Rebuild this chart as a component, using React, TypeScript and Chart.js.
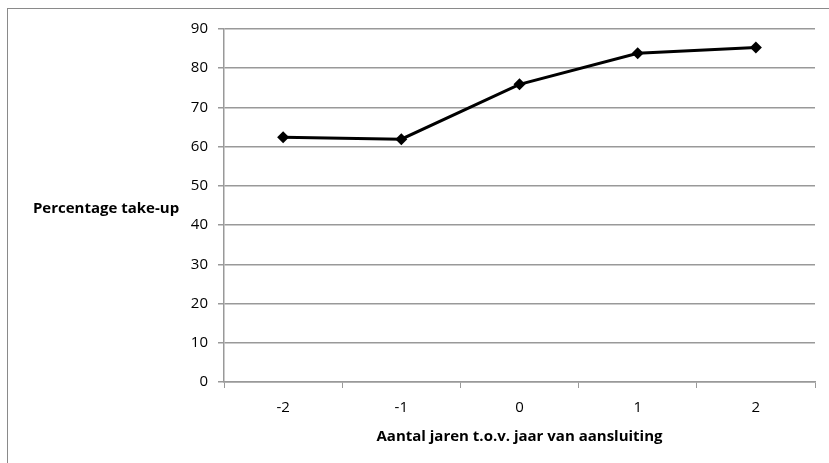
import React, { useEffect, useRef } from "react";
import { Chart, registerables } from "chart.js";

Chart.register(...registerables);

const categories = ["-2", "-1", "0", "1", "2"];
const takeUp = [62.4, 61.9, 75.9, 83.8, 85.3];
const yTitle = "Percentage take-up";
const xTitle = "Aantal jaren t.o.v. jaar van aansluiting";

const W = 829;
const H = 463;

export default function App() {
  const ref = useRef<HTMLCanvasElement | null>(null);

  useEffect(() => {
    if (!ref.current) return;
    const titlePlugin = {
      id: "titles",
      afterDraw(chart: any) {
        const ctx = chart.ctx;
        ctx.save();
        ctx.fillStyle = "#000";
        ctx.font = 'bold 15px "Open Sans"';
        ctx.textAlign = "center";
        ctx.textBaseline = "alphabetic";
        ctx.fillText(yTitle, 106, 212.5);
        ctx.fillText(xTitle, (chart.chartArea.left + chart.chartArea.right) / 2, 441);
        ctx.restore();
      },
    };
    const chart = new Chart(ref.current, {
      type: "line",
      data: {
        labels: categories,
        datasets: [
          {
            data: takeUp,
            borderColor: "#000",
            backgroundColor: "#000",
            borderWidth: 3,
            pointStyle: "rectRot",
            pointRadius: 6,
            pointBackgroundColor: "#000",
            pointBorderColor: "#000",
            pointBorderWidth: 0,
            tension: 0,
          },
        ],
      },
      options: {
        responsive: false,
        animation: false,
        layout: { padding: { left: 0, top: 29, right: 14, bottom: 0 } },
        plugins: {
          legend: { display: false },
          tooltip: { enabled: false },
          title: { display: false },
        },
        scales: {
          x: {
            offset: true,
            grid: {
              offset: true,
              drawOnChartArea: false,
              drawTicks: true,
              tickLength: 6,
              color: "#999",
              lineWidth: 1,
            },
            border: { display: true, color: "#999", width: 1.5 },
            ticks: {
              color: "#000",
              font: { family: "Open Sans", size: 15 },
              padding: 11,
              maxRotation: 0,
            },
            afterFit(scale: any) {
              scale.height = 81;
            },
          },
          y: {
            min: 0,
            max: 90,
            ticks: {
              stepSize: 10,
              color: "#000",
              font: { family: "Open Sans", size: 15 },
              padding: 10,
            },
            grid: {
              color: "#999",
              lineWidth: 1.5,
              drawTicks: true,
              tickLength: 6,
            },
            border: { display: true, color: "#999", width: 1.5 },
            afterFit(scale: any) {
              scale.width = 224;
            },
          },
        },
      },
      plugins: [titlePlugin],
    });
    return () => chart.destroy();
  }, []);

  return (
    <div style={{ position: "fixed", left: 0, top: 0, width: W, height: H, background: "#fff" }}>
      <div
        style={{
          position: "absolute",
          left: 7,
          top: 8,
          width: W,
          height: H,
          borderLeft: "1.5px solid #8a8a8a",
          borderTop: "1.5px solid #8a8a8a",
        }}
      />
      <canvas ref={ref} width={W} height={H} style={{ position: "absolute", left: 0, top: 0 }} />
    </div>
  );
}
